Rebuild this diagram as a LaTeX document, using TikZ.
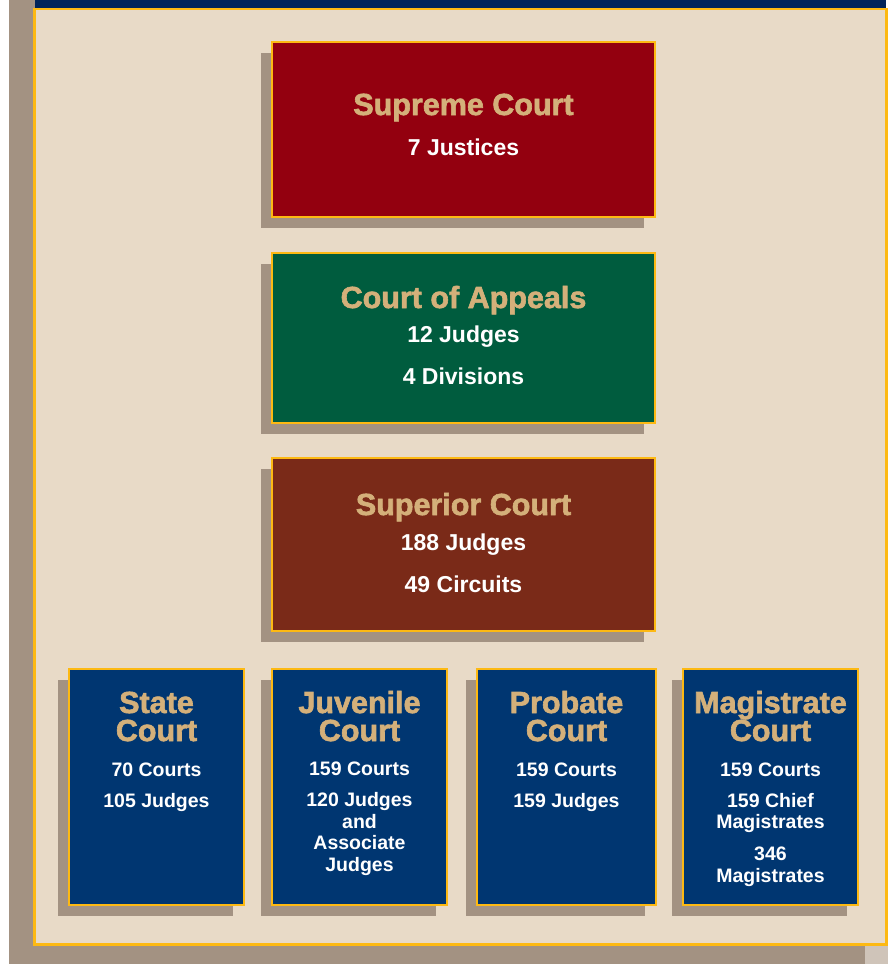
\documentclass[tikz,border=0pt]{standalone}
\usepackage{fontspec}
\setmainfont{Liberation Sans}
\newfontfamily\headfont{Liberation Sans}[FakeBold=2]
\usetikzlibrary{shadows}

\definecolor{courtred}{HTML}{93000F}
\definecolor{courtgreen}{HTML}{005C3E}
\definecolor{courtbrown}{HTML}{7A2A18}
\definecolor{courtblue}{HTML}{003671}
\definecolor{topblue}{HTML}{00245A}
\definecolor{courtgold}{HTML}{FDB913}
\definecolor{headtan}{HTML}{D4B07A}
\definecolor{taupe}{HTML}{A39282}
\definecolor{paper}{HTML}{E8DAC7}
\definecolor{greyedge}{HTML}{CFC4B9}

\begin{document}
\begin{tikzpicture}[x=1pt,y=-1pt,
    court/.style={rectangle,draw=courtgold,line width=2pt,inner sep=0pt,
      drop shadow={shadow xshift=-11pt,shadow yshift=-11pt,opacity=1,fill=taupe}},
    wide/.style={court,minimum width=383pt},
    narrow/.style={court,minimum width=175pt,minimum height=236pt,fill=courtblue},
    head/.style={anchor=base,align=center,text=headtan,font=\headfont\bfseries\fontsize{30.5}{28}\selectfont},
    smallhead/.style={head,inner sep=1pt,font=\headfont\bfseries\fontsize{30.5}{28}\selectfont},
    count/.style={anchor=base,align=center,text=white,font=\bfseries\fontsize{23}{25}\selectfont},
    smallcount/.style={count,font=\bfseries\fontsize{19.5}{21.5}\selectfont}]
    \useasboundingbox (0,0) rectangle (888,964);

    % paper and its shadow
    \fill[taupe] (9,0) rectangle (865,964);
    \fill[greyedge] (865,946) rectangle (888,964);
    \draw[courtgold,line width=2.5pt,fill=paper] (34.5,9) rectangle (886.5,944.5);
    \fill[topblue] (35,0) rectangle (886,7.5);

    %%%%%%%%%% upper courts %%%%%%%%%%
    % (multi-line texts sit on the baseline of their last line)
    \node[wide,fill=courtred,minimum height=175pt] (supreme) at (463.5,129.5) {};
    \node[head] (supreme-head) at (463.5,115) {Supreme Court};
    \node[count] (supreme-count) at (463.5,155) {7 Justices};

    \node[wide,fill=courtgreen,minimum height=170pt] (appeals) at (463.5,337.5) {};
    \node[head] (appeals-head) at (463.5,308) {Court of Appeals};
    \node[count] (appeals-count) at (463.5,384) {12 Judges\\[16.5pt]4 Divisions};

    \node[wide,fill=courtbrown,minimum height=173pt] (superior) at (463.5,544.5) {};
    \node[head] (superior-head) at (463.5,515) {Superior Court};
    \node[count] (superior-count) at (463.5,592) {188 Judges\\[17pt]49 Circuits};

    %%%%%%%%%% trial courts %%%%%%%%%%
    \node[narrow] (state) at (156.5,787) {};
    \node[smallhead] (state-head) at (156.5,741) {State\\Court};
    \node[smallcount] (state-count) at (156.5,807) {70 Courts\\[9.5pt]105 Judges};

    \node[narrow] (juvenile) at (359.5,787) {};
    \node[smallhead] (juvenile-head) at (359.5,741) {Juvenile\\Court};
    \node[smallcount] (juvenile-count) at (359.5,871) {159 Courts\\[9.5pt]120 Judges\\and\\Associate\\Judges};

    \node[narrow,minimum width=179pt] (probate) at (566.5,787) {};
    \node[smallhead] (probate-head) at (566.5,741) {Probate\\Court};
    \node[smallcount] (probate-count) at (566.5,807) {159 Courts\\[9.5pt]159 Judges};

    \node[narrow] (magistrate) at (770.5,787) {};
    \node[smallhead] (magistrate-head) at (770.5,741) {Magistrate\\Court};
    \node[smallcount] (magistrate-count) at (770.5,882) {159 Courts\\[9.5pt]159 Chief\\Magistrates\\[10.5pt]346\\Magistrates};
\end{tikzpicture}
\end{document}
